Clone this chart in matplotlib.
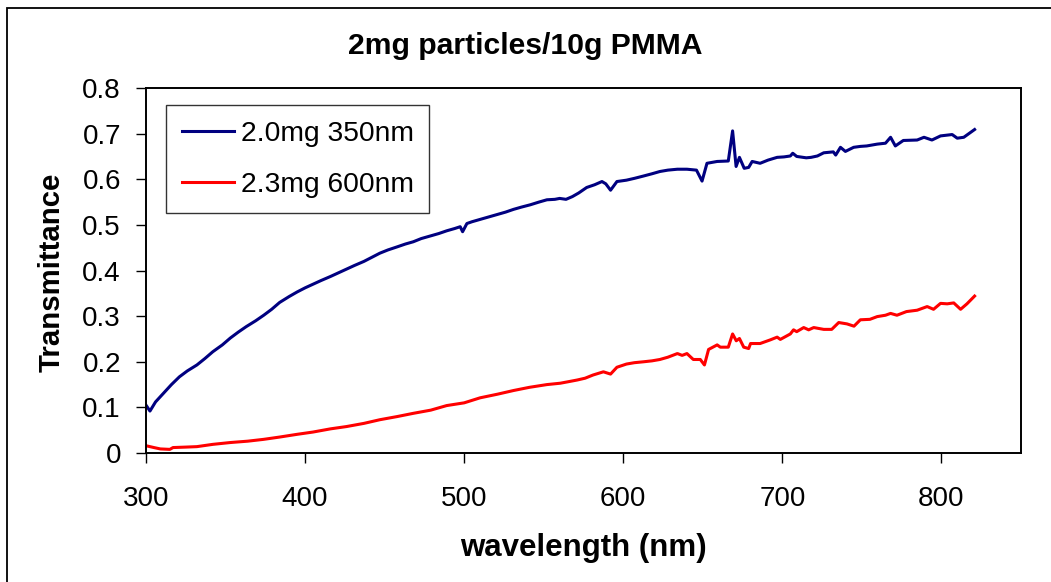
import matplotlib
matplotlib.use("Agg")
import matplotlib.pyplot as plt
from matplotlib.patches import Rectangle

plt.rcParams['font.family'] = ['Liberation Sans', 'DejaVu Sans']

title = "2mg particles/10g PMMA"
x_label = "wavelength (nm)"
y_label = "Transmittance"
series_names = ["2.0mg 350nm", "2.3mg 600nm"]
x_ticks = [300, 400, 500, 600, 700, 800]
y_ticks = [0, 0.1, 0.2, 0.3, 0.4, 0.5, 0.6, 0.7, 0.8]

wl_350 = [300, 302.5, 306, 311, 316, 321, 326, 332, 337, 342, 348, 353, 358, 363,
          369, 374, 379, 384, 390, 395, 400, 405, 410, 416, 421, 426, 431, 437,
          442, 447, 452, 458, 463, 468, 473, 479, 484, 489, 494, 497.5, 499,
          501.7, 505, 510, 515, 521, 526, 531, 536, 541.5, 547, 552, 557, 560,
          564, 568, 572, 577, 582, 586.6, 589, 592, 596, 602, 607, 612.6, 618,
          623, 628, 634, 640, 646, 649.5, 652.6, 659, 666, 668.7, 670.9, 673,
          676, 678.8, 681, 686, 691, 696.7, 701, 705, 706.5, 709, 715, 718, 722,
          726, 732, 733.5, 736.5, 739.6, 744.8, 749, 753, 759.6, 764.8, 768, 771,
          776, 784.7, 789, 794, 799.4, 806.7, 809.9, 814, 820.8]
t_350 = [0.105, 0.092, 0.112, 0.131, 0.150, 0.167, 0.180, 0.193, 0.207, 0.222,
         0.237, 0.252, 0.265, 0.277, 0.290, 0.302, 0.315, 0.330, 0.343, 0.353,
         0.362, 0.370, 0.378, 0.387, 0.395, 0.403, 0.411, 0.420, 0.429, 0.438,
         0.445, 0.452, 0.458, 0.463, 0.470, 0.476, 0.481, 0.487, 0.492, 0.496,
         0.485, 0.503, 0.507, 0.512, 0.517, 0.523, 0.528, 0.534, 0.539, 0.544,
         0.550, 0.555, 0.556, 0.558, 0.556, 0.562, 0.570, 0.582, 0.588, 0.595,
         0.590, 0.576, 0.595, 0.598, 0.602, 0.607, 0.612, 0.617, 0.620, 0.622,
         0.622, 0.620, 0.596, 0.635, 0.639, 0.640, 0.706, 0.628, 0.648, 0.624,
         0.626, 0.639, 0.635, 0.642, 0.648, 0.649, 0.651, 0.657, 0.650, 0.647,
         0.648, 0.651, 0.658, 0.660, 0.653, 0.670, 0.661, 0.670, 0.672, 0.673,
         0.677, 0.679, 0.692, 0.673, 0.685, 0.686, 0.692, 0.686, 0.695, 0.698,
         0.690, 0.692, 0.709]

wl_600 = [300, 305, 309, 315, 317, 325, 332, 342, 353, 364, 374, 384, 395, 405,
          416, 426, 437, 447, 458, 468, 479, 489, 500, 510, 521, 531, 541, 552,
          560.4, 565, 571, 576, 581, 587.5, 592, 596, 602, 607, 612.8, 618, 623,
          628, 634, 637, 640, 644, 648.4, 651, 653.6, 659, 661, 666, 668.7, 671,
          673, 675.7, 678.8, 680, 686, 692.4, 696.7, 698.7, 705, 707, 709, 713.4,
          716.5, 719.7, 726, 731, 735.4, 740.6, 745, 749, 755, 759.6, 764.8, 768,
          772, 778, 784.7, 791, 795, 799.4, 803.6, 807.7, 812, 816, 820.8]
t_600 = [0.016, 0.012, 0.009, 0.008, 0.012, 0.013, 0.014, 0.019, 0.023, 0.026,
         0.030, 0.035, 0.041, 0.046, 0.053, 0.058, 0.065, 0.073, 0.080, 0.087,
         0.094, 0.104, 0.110, 0.121, 0.129, 0.137, 0.144, 0.150, 0.153, 0.156,
         0.160, 0.164, 0.171, 0.178, 0.173, 0.188, 0.195, 0.198, 0.200, 0.202,
         0.205, 0.210, 0.218, 0.214, 0.218, 0.205, 0.205, 0.193, 0.227, 0.237,
         0.232, 0.232, 0.261, 0.246, 0.251, 0.232, 0.229, 0.240, 0.240, 0.248,
         0.254, 0.249, 0.261, 0.270, 0.266, 0.275, 0.270, 0.275, 0.271, 0.271,
         0.286, 0.283, 0.278, 0.292, 0.293, 0.299, 0.302, 0.306, 0.302, 0.310,
         0.313, 0.321, 0.315, 0.328, 0.327, 0.329, 0.315, 0.327, 0.344]

fig = plt.figure(figsize=(10.51, 5.82), dpi=100)
ax = fig.add_axes([0.1389, 0.2216, 0.8326, 0.6272])

# outer chart frame (open on the right and bottom edges of the canvas)
fig.patches.append(Rectangle((7 / 1051, -0.05), 1.1, 1 - 8 / 582 + 0.05,
                             transform=fig.transFigure, fill=False,
                             edgecolor='black', linewidth=1.3))

ax.plot(wl_350, t_350, color='#000080', lw=2.2, label=series_names[0])
ax.plot(wl_600, t_600, color='#FF0000', lw=2.2, label=series_names[1])

ax.set_xlim(300, 850)
ax.set_ylim(0, 0.8)
ax.set_xticks(x_ticks)
ax.set_xticklabels([str(v) for v in x_ticks])
ax.set_yticks(y_ticks)
ax.set_yticklabels(["0" if v == 0 else f"{v:.1f}" for v in y_ticks])
ax.tick_params(axis='both', direction='out', length=7, width=1, labelsize=20,
               color='black')
ax.tick_params(axis='y', pad=11)
ax.tick_params(axis='x', pad=17)
for s in ax.spines.values():
    s.set_linewidth(1.4)
    s.set_color('black')

fig.text(0.5, 1 - 46 / 582, title, ha='center', va='center',
         fontsize=21.7, fontweight='bold')
fig.text((146 + 1021) / 2 / 1051, 1 - 548 / 582, x_label, ha='center',
         va='center', fontsize=22.5, fontweight='bold')
fig.text(52 / 1051, 1 - 272 / 582, y_label, ha='center', va='center',
         rotation=90, fontsize=21.2, fontweight='bold')

leg = ax.legend(loc='upper left', bbox_to_anchor=(0.0229, 0.9534),
                fontsize=20.3, frameon=True, fancybox=False, edgecolor='black',
                handlelength=1.85, handletextpad=0.25, labelspacing=0.9,
                borderpad=0.55, borderaxespad=0)
leg.get_frame().set_linewidth(1.0)

fig.savefig("out.png", dpi=100)
